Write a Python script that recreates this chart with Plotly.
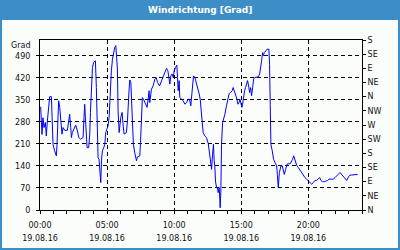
import pandas as pd
import plotly.graph_objects as go

# ---- data ----
hours = [0.05, 0.15, 0.22, 0.30, 0.40, 0.47, 0.55, 0.65, 0.72, 0.85, 0.90, 0.97, 1.09, 1.22, 1.27,
         1.34, 1.39, 1.47, 1.54, 1.64, 1.72, 1.84, 2.04, 2.14, 2.21, 2.29, 2.34, 2.41, 2.54, 2.66,
         2.79, 2.89, 3.03, 3.21, 3.28, 3.33, 3.41, 3.51, 3.63, 3.71, 3.76, 3.83, 3.91, 4.00, 4.13,
         4.20, 4.28, 4.33, 4.40, 4.45, 4.53, 4.58, 4.65, 4.75, 4.83, 4.90, 5.00, 5.07, 5.15, 5.20,
         5.27, 5.32, 5.40, 5.47, 5.57, 5.65, 5.72, 5.77, 5.82, 5.90, 6.02, 6.12, 6.20, 6.27, 6.44,
         6.52, 6.62, 6.69, 6.77, 6.82, 6.89, 6.96, 7.06, 7.19, 7.26, 7.36, 7.44, 7.49, 7.56, 7.63,
         7.71, 7.81, 7.91, 7.98, 8.06, 8.13, 8.18, 8.23, 8.31, 8.43, 8.56, 8.66, 8.76, 8.91, 9.06,
         9.20, 9.30, 9.43, 9.53, 9.60, 9.68, 9.75, 9.85, 9.93, 10.00, 10.10, 10.20, 10.25, 10.30,
         10.37, 10.42, 10.55, 10.67, 10.80, 10.92, 11.04, 11.14, 11.24, 11.34, 11.44, 11.54, 11.64,
         11.74, 11.79, 11.87, 11.94, 11.99, 12.09, 12.16, 12.29, 12.41, 12.54, 12.61, 12.69, 12.79,
         12.86, 12.93, 12.98, 13.03, 13.08, 13.16, 13.23, 13.28, 13.36, 13.43, 13.48, 13.53, 13.61,
         13.68, 13.78, 13.90, 14.03, 14.10, 14.20, 14.33, 14.40, 14.48, 14.58, 14.68, 14.75, 14.83,
         14.90, 14.97, 15.05, 15.10, 15.17, 15.25, 15.32, 15.40, 15.47, 15.55, 15.62, 15.70, 15.77,
         15.85, 15.92, 16.02, 16.14, 16.27, 16.37, 16.44, 16.52, 16.59, 16.64, 16.72, 16.82, 16.94,
         17.06, 17.11, 17.16, 17.21, 17.31, 17.41, 17.51, 17.64, 17.69, 17.76, 17.84, 17.96, 18.06,
         18.13, 18.21, 18.31, 18.41, 18.51, 18.66, 18.76, 18.83, 18.91, 19.00, 19.13, 19.25, 19.38,
         19.50, 19.63, 19.75, 19.87, 20.00, 20.12, 20.25, 20.37, 20.50, 20.62, 20.75, 20.85, 20.94,
         21.04, 21.19, 21.32, 21.44, 21.54, 21.69, 21.86, 21.99, 22.11, 22.24, 22.36, 22.44, 22.56,
         22.74, 22.86, 22.99, 23.11, 23.23, 23.36, 23.53, 23.68]
direction = [328, 240, 293, 262, 278, 235, 283, 325, 360, 360, 283, 209, 188, 172, 209,
             294, 347, 326, 294, 241, 262, 253, 253, 288, 304, 262, 230, 246, 262, 270,
             251, 230, 225, 230, 294, 336, 272, 198, 198, 241, 310, 379, 453, 469, 474,
             389, 283, 166, 161, 113, 87, 156, 188, 198, 209, 246, 262, 267, 294, 357,
             379, 442, 479, 500, 516, 522, 485, 448, 315, 246, 294, 310, 267, 241, 246,
             283, 368, 413, 405, 357, 278, 209, 182, 156, 169, 172, 172, 214, 310, 357,
             352, 341, 331, 326, 352, 379, 341, 363, 384, 394, 416, 421, 405, 394, 411,
             426, 442, 450, 442, 416, 400, 426, 432, 421, 442, 453, 460, 421, 379,
             411, 357, 352, 347, 336, 341, 352, 352, 331, 389, 426, 421, 405,
             394, 379, 368, 352, 326, 278, 246, 235, 230, 211, 182, 151, 129,
             177, 209, 156, 140, 92, 71, 71, 55, 71, 7, 60, 209, 278,
             294, 304, 331, 357, 370, 373, 379, 389, 379, 363, 352, 336, 341,
             352, 336, 326, 336, 363, 379, 389, 402, 411, 394, 373, 389, 363,
             389, 416, 421, 421, 423, 432, 448, 474, 500, 490, 500, 506, 511,
             511, 463, 336, 209, 188, 161, 151, 140, 113, 71, 119, 140, 140,
             129, 113, 129, 145, 147, 147, 156, 161, 172, 156, 142, 135, 126,
             119, 111, 103, 98, 92, 87, 82, 87, 94, 94, 98, 103, 94,
             90, 90, 92, 94, 98, 98, 98, 103, 108, 113, 119, 115, 108,
             101, 94, 105, 111, 111, 111, 113, 113]
left_ticks = [0, 70, 140, 210, 280, 350, 420, 490]
compass_vals = [0, 45, 90, 135, 180, 225, 270, 315, 360, 405, 450, 495, 540]
compass_text = ["N", "NE", "E", "SE", "S", "SW", "W", "NW", "N", "NE", "E", "SE", "S"]
title_text = "Windrichtung [Grad]"
unit_text = "Grad"

base = pd.Timestamp("2016-08-19 00:00")
times = base + pd.to_timedelta(hours, unit="h")
x_range = [base, base + pd.Timedelta(hours=24)]

FRAME = "#3d8ec7"
BG = "#fbfdfb"
FONT = "DejaVu Sans"
TXT = "#111111"

L, R, T, B = 40, 38, 40, 40
W, H = 400, 250
pw, ph = W - L - R, H - T - B


def px(xp):
    return (xp - L) / pw


def py(yp):
    return (H - B - yp) / ph


fig = go.Figure()
fig.add_trace(go.Scatter(x=times, y=direction, mode="lines",
                         line=dict(color="#0000ff", width=1),
                         xaxis="x", yaxis="y", showlegend=False, hoverinfo="skip"))
fig.add_trace(go.Scatter(x=times, y=direction, mode="lines", opacity=0,
                         line=dict(width=0.1), xaxis="x2", yaxis="y2",
                         showlegend=False, hoverinfo="skip"))

fig.update_layout(
    width=W, height=H,
    margin=dict(l=L, r=R, t=T, b=B, pad=0, autoexpand=False),
    paper_bgcolor=FRAME, plot_bgcolor=BG,
    showlegend=False,
    font=dict(family=FONT, size=8, color=TXT),
    xaxis=dict(
        type="date", range=x_range, tick0=base, dtick=5 * 3600000,
        tickformat="%H:%M", ticks="outside", ticklen=3, tickcolor="black",
        showline=True, linecolor="black", linewidth=1, mirror=True,
        showgrid=True, gridcolor="black", griddash="4px,3px", gridwidth=1,
        minor=dict(dtick=3600000, tick0=base, ticks="outside", ticklen=3,
                   tickcolor="black", showgrid=False),
        tickfont=dict(family=FONT, size=8, color=TXT), ticklabelstandoff=4,
        zeroline=False, fixedrange=True, automargin=False,
    ),
    xaxis2=dict(
        type="date", range=x_range, tick0=base, dtick=5 * 3600000,
        tickformat="%d.%m.%y", overlaying="x", side="bottom", anchor="y",
        ticks="", showline=False, showgrid=False, ticklabelstandoff=22,
        tickfont=dict(family=FONT, size=8, color=TXT),
        zeroline=False, fixedrange=True, automargin=False,
    ),
    yaxis=dict(
        range=[0, 540], tickvals=left_ticks, ticks="outside", ticklen=3,
        tickcolor="black", showline=True, linecolor="black", linewidth=1,
        showgrid=True, gridcolor="black", griddash="4px,3px", gridwidth=1,
        zeroline=False, tickfont=dict(family=FONT, size=8, color=TXT),
        ticklabelstandoff=4, fixedrange=True, automargin=False,
    ),
    yaxis2=dict(
        range=[0, 540], tickvals=compass_vals, ticktext=compass_text,
        overlaying="y", side="right", anchor="x",
        ticks="outside", ticklen=3, tickcolor="black",
        showline=True, linecolor="black", linewidth=1,
        showgrid=False, zeroline=False, automargin=False,
        tickfont=dict(family=FONT, size=8, color=TXT), fixedrange=True,
    ),
    shapes=[
        dict(type="rect", xref="paper", yref="paper", layer="below",
             x0=px(2), x1=px(398), y0=py(248), y1=py(20),
             fillcolor=BG, line=dict(width=0)),
    ],
    annotations=[
        dict(text="<b>" + title_text + "</b>", xref="paper", yref="paper",
             x=px(200), y=py(10), xanchor="center", yanchor="middle",
             showarrow=False, font=dict(family=FONT, size=9, color="white")),
        dict(text=unit_text, xref="paper", yref="paper",
             x=px(32), y=py(45), xanchor="right", yanchor="middle",
             showarrow=False, font=dict(family=FONT, size=8, color=TXT)),
    ],
)

fig.write_html("out.html")
